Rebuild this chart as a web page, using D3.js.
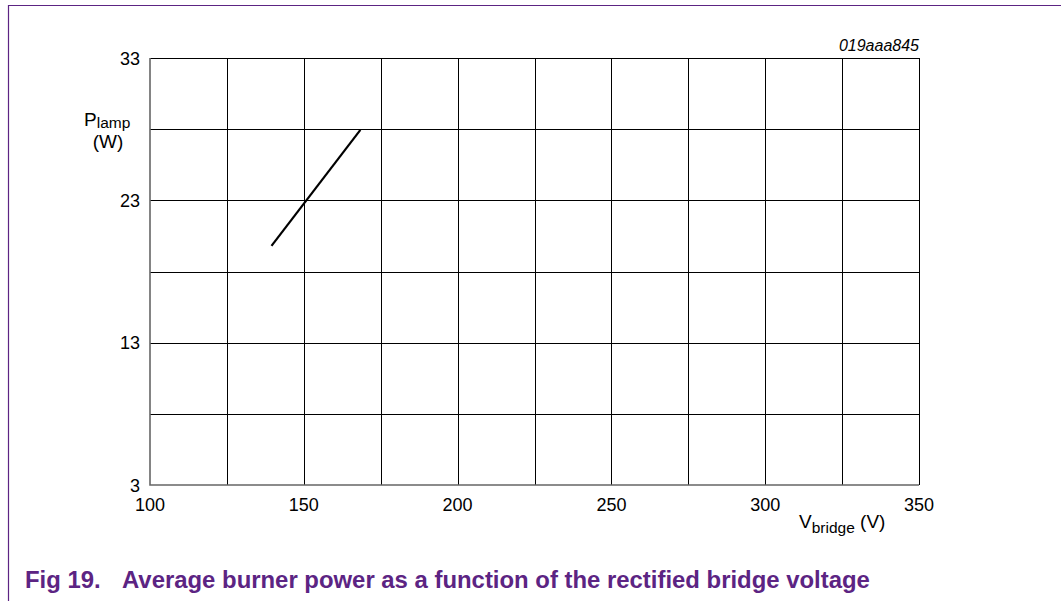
<!DOCTYPE html>
<html>
<head>
<meta charset="utf-8">
<script src="https://cdn.jsdelivr.net/npm/d3@7/dist/d3.min.js"></script>
<style>
  body { margin: 0; background: #fff; }
  text { font-family: "Liberation Sans", Arial, sans-serif; }
</style>
</head>
<body>
<div id="chart"></div>
<script>
// chart values
var xTicks = [100, 150, 200, 250, 300, 350];
var yTicks = [3, 13, 23, 33];
var xGrid = [125, 150, 175, 200, 225, 250, 275, 300, 325, 350];
var yGrid = [8, 13, 18, 23, 28, 33];
var vBridge = [139.5, 168.4];
var pLamp = [19.8, 27.95];

var w = 1061, h = 601;
var purple = "#5c2483";

var svg = d3.select("#chart").append("svg")
  .attr("width", w)
  .attr("height", h);

// frame
svg.append("path")
  .attr("d", "M8.5,601 V5.5 H1061")
  .attr("fill", "none")
  .attr("stroke", purple)
  .attr("stroke-width", 1.2);

var x = d3.scaleLinear().domain([100, 350]).range([150, 919]);
var y = d3.scaleLinear().domain([3, 33]).range([485, 58]);

// grid
svg.selectAll(".vgrid")
  .data(xGrid)
  .enter()
  .append("line")
  .attr("class", "vgrid")
  .attr("x1", function(d) { return Math.round(x(d)) + 0.5; })
  .attr("x2", function(d) { return Math.round(x(d)) + 0.5; })
  .attr("y1", y(3))
  .attr("y2", y(33))
  .attr("stroke", "#000")
  .attr("stroke-width", 1);

svg.selectAll(".hgrid")
  .data(yGrid)
  .enter()
  .append("line")
  .attr("class", "hgrid")
  .attr("x1", x(100))
  .attr("x2", x(350))
  .attr("y1", function(d) { return Math.round(y(d)) + 0.5; })
  .attr("y2", function(d) { return Math.round(y(d)) + 0.5; })
  .attr("stroke", "#000")
  .attr("stroke-width", 1);

// axes (left + bottom in grey)
svg.append("path")
  .attr("d", "M" + x(100) + "," + y(33) + " V" + y(3) + " H" + x(350))
  .attr("fill", "none")
  .attr("stroke", "#666")
  .attr("stroke-width", 1.6);

// tick labels
svg.selectAll(".xlab")
  .data(xTicks)
  .enter()
  .append("text")
  .attr("class", "xlab")
  .attr("x", function(d) { return x(d); })
  .attr("y", 511)
  .attr("text-anchor", "middle")
  .attr("font-size", "18px")
  .text(function(d) { return d; });

svg.selectAll(".ylab")
  .data(yTicks)
  .enter()
  .append("text")
  .attr("class", "ylab")
  .attr("x", 140)
  .attr("y", function(d) { return y(d) + 6.5; })
  .attr("text-anchor", "end")
  .attr("font-size", "18px")
  .text(function(d) { return d; });

// axis titles
var yt = svg.append("text").attr("x", 84).attr("y", 126).attr("font-size", "19px");
yt.append("tspan").text("P");
yt.append("tspan").attr("dy", 2).attr("font-size", "15.5px").text("lamp");
svg.append("text")
  .attr("x", 108).attr("y", 148)
  .attr("text-anchor", "middle")
  .attr("font-size", "19px")
  .text("(W)");

var xt = svg.append("text").attr("x", 799).attr("y", 528).attr("font-size", "19px");
xt.append("tspan").text("V");
xt.append("tspan").attr("dy", 5).attr("font-size", "15.5px").text("bridge");
xt.append("tspan").attr("dy", -5).text(" (V)");

svg.append("text")
  .attr("x", 919).attr("y", 51)
  .attr("text-anchor", "end")
  .attr("font-size", "16px")
  .attr("font-style", "italic")
  .text("019aaa845");

// curve
var line = d3.line()
  .x(function(d) { return x(d[0]); })
  .y(function(d) { return y(d[1]); });

svg.append("path")
  .datum(d3.zip(vBridge, pLamp))
  .attr("d", line)
  .attr("fill", "none")
  .attr("stroke", "#000")
  .attr("stroke-width", 2.2);

// caption
var cap = svg.append("text")
  .attr("x", 25).attr("y", 588)
  .attr("font-size", "23.9px")
  .attr("font-weight", "bold")
  .attr("fill", purple);
cap.append("tspan").text("Fig 19.");
cap.append("tspan").attr("x", 122).text("Average burner power as a function of the rectified bridge voltage");
</script>
</body>
</html>
